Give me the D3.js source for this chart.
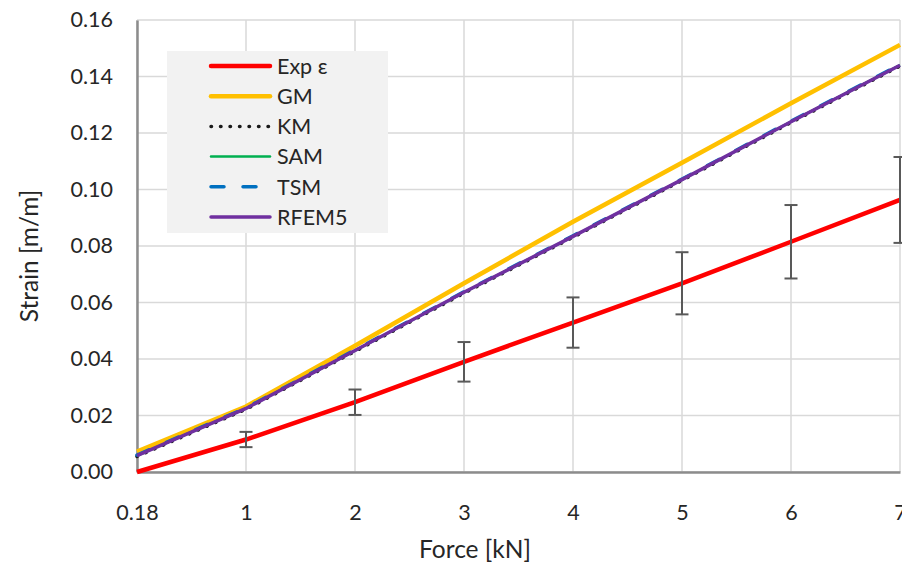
<!DOCTYPE html>
<html><head><meta charset="utf-8">
<script src="https://cdn.jsdelivr.net/npm/d3@7"></script>
<style>body{margin:0;background:#fff;} svg{display:block;font-family:Lato, "Noto Sans", sans-serif;}</style>
</head><body>
<svg id="c" width="902" height="563"></svg>
<script>
const categories = ["0.18","1","2","3","4","5","6","7"];
const expStrain = [0.000, 0.0115, 0.0247, 0.0390, 0.0529, 0.0668, 0.0815, 0.0963];
const expError  = [null, 0.0027, 0.0045, 0.0070, 0.0089, 0.0110, 0.0130, 0.0152];
const gm    = [0.0072, 0.0232, 0.0447, 0.0668, 0.0886, 0.1095, 0.1305, 0.1512];
const km    = [0.0055, 0.0222, 0.0427, 0.0633, 0.0831, 0.1032, 0.1237, 0.1437];
const sam   = [0.0058, 0.0225, 0.0430, 0.0636, 0.0834, 0.1035, 0.1240, 0.1440];
const tsm   = [0.0060, 0.0227, 0.0432, 0.0638, 0.0836, 0.1037, 0.1242, 0.1442];
const rfem5 = [0.0058, 0.0225, 0.0430, 0.0636, 0.0834, 0.1035, 0.1240, 0.1440];
const yTicks = [0,0.02,0.04,0.06,0.08,0.10,0.12,0.14,0.16];

const series = [
  {name:"GM", values:gm, color:"#ffc000", width:4.5, dash:null},
  {name:"KM", values:km, color:"#1a1a1a", width:3.5, dash:"0.5,9", cap:"round"},
  {name:"SAM", values:sam, color:"#00b050", width:2.5, dash:null},
  {name:"TSM", values:tsm, color:"#0070c0", width:3.5, dash:"13,19", cap:"round"},
  {name:"RFEM5", values:rfem5, color:"#7030a0", width:3.5, dash:null},
  {name:"Exp ε", values:expStrain, color:"#ff0000", width:4.5, dash:null}
];
const legendOrder = ["Exp ε","GM","KM","SAM","TSM","RFEM5"];

const svg = d3.select("#c");
const L=137, R=900, T=20, B=472;
const x = d3.scalePoint().domain(categories).range([L,R]);
const y = d3.scaleLinear().domain([0,0.16]).range([B,T]);

// gridlines
svg.append("g").selectAll("line").data(yTicks).join("line")
  .attr("x1",L).attr("x2",R).attr("y1",d=>y(d)).attr("y2",d=>y(d))
  .attr("stroke","#d9d9d9").attr("stroke-width",1.5);
svg.append("g").selectAll("line").data(categories).join("line")
  .attr("x1",d=>x(d)).attr("x2",d=>x(d)).attr("y1",T).attr("y2",B)
  .attr("stroke","#d9d9d9").attr("stroke-width",1.5);

// axes
const yAxis = d3.axisLeft(y).tickValues(yTicks).tickFormat(d3.format(".2f")).tickSize(0).tickPadding(24);
const gy = svg.append("g").attr("transform",`translate(${L},0)`).call(yAxis);
gy.select(".domain").attr("stroke","#8c8c8c").attr("stroke-width",2.5);
gy.selectAll("text").attr("font-size",21.5).attr("fill","#262626").attr("font-family","Lato");
const xAxis = d3.axisBottom(x).tickSize(0).tickPadding(33);
const gx = svg.append("g").attr("transform",`translate(0,${B})`).call(xAxis);
gx.select(".domain").attr("stroke","#8c8c8c").attr("stroke-width",2.5);
gx.selectAll("text").attr("font-size",21.5).attr("fill","#262626").attr("font-family","Lato");

// legend
const lg = svg.append("g");
lg.append("rect").attr("x",167).attr("y",51).attr("width",221).attr("height",182).attr("fill","#f2f2f2");
const ly = d3.scalePoint().domain(legendOrder).range([66,217]);
legendOrder.forEach(n=>{
  const s = series.find(d=>d.name===n);
  lg.append("line").attr("x1",211).attr("x2",270).attr("y1",ly(n)).attr("y2",ly(n))
    .attr("stroke",s.color).attr("stroke-width",s.width)
    .attr("stroke-dasharray",s.dash).attr("stroke-linecap",s.cap||"round");
  lg.append("text").attr("x",277).attr("y",ly(n)).attr("dy","0.36em")
    .attr("font-size",21.5).attr("fill","#262626").text(n);
});

// lines
const line = d3.line().x((d,i)=>x(categories[i])).y(d=>y(d));
series.forEach(s=>{
  svg.append("path").datum(s.values).attr("d",line)
    .attr("fill","none").attr("stroke",s.color).attr("stroke-width",s.width)
    .attr("stroke-dasharray",s.dash).attr("stroke-linecap",s.cap||"butt");
});

// error bars
const eb = svg.append("g").attr("stroke","#595959").attr("stroke-width",2);
categories.forEach((c,i)=>{
  const e = expError[i]; if(e==null) return;
  const v = expStrain[i];
  eb.append("line").attr("x1",x(c)).attr("x2",x(c)).attr("y1",y(v+e)).attr("y2",y(v-e));
  eb.append("line").attr("x1",x(c)-6.5).attr("x2",x(c)+6.5).attr("y1",y(v+e)).attr("y2",y(v+e));
  eb.append("line").attr("x1",x(c)-6.5).attr("x2",x(c)+6.5).attr("y1",y(v-e)).attr("y2",y(v-e));
});

// titles
svg.append("text").attr("x",475).attr("y",558).attr("text-anchor","middle")
  .attr("font-size",24.5).attr("fill","#262626").text("Force [kN]");
svg.append("text").attr("transform","translate(38,256) rotate(-90)").attr("text-anchor","middle")
  .attr("font-size",24.5).attr("fill","#262626").text("Strain [m/m]");
</script>
</body></html>
